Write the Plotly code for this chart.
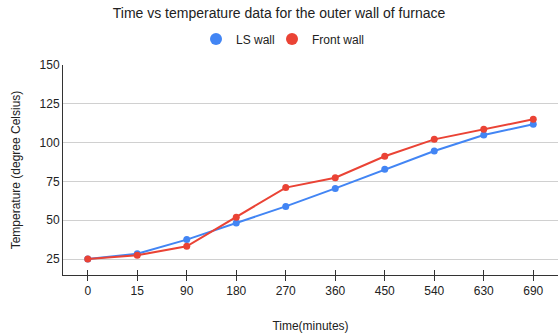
import plotly.graph_objects as go

# Sample times (minutes), plotted as evenly spaced categories
times = ["0", "15", "90", "180", "270", "360", "450", "540", "630", "690"]

# Outer wall temperatures (degree Celsius)
ls_wall = [25.0, 28.4, 37.5, 48.2, 58.9, 70.5, 82.8, 94.6, 104.9, 111.8]
front_wall = [25.0, 27.4, 33.2, 51.9, 71.0, 77.4, 91.2, 102.1, 108.6, 115.0]

y_ticks = [25, 50, 75, 100, 125, 150]

FONT = "Liberation Sans, Arial, sans-serif"
TEXT = "#222222"
BLUE = "#4285F4"
RED = "#EA4335"

fig = go.Figure()
series = [("LS wall", ls_wall, BLUE, "legend"), ("Front wall", front_wall, RED, "legend2")]
for name, values, color, leg in series:
    fig.add_trace(go.Scatter(
        x=times, y=values, name=name, mode="lines+markers", showlegend=False,
        line=dict(color=color, width=2), marker=dict(size=7, color=color),
    ))
    # legend entry shown as a plain dot
    fig.add_trace(go.Scatter(
        x=[None], y=[None], name=name, mode="markers", legend=leg,
        marker=dict(size=11, color=color),
    ))
# invisible trace on an overlaid axis to draw the upper half of the crossing ticks
fig.add_trace(go.Scatter(
    x=times, y=[None] * len(times), xaxis="x2", showlegend=False,
    hoverinfo="skip", mode="lines",
))

legend_style = dict(
    orientation="h", xanchor="left", y=1.124, yanchor="middle",
    font=dict(size=12, color=TEXT), itemsizing="constant",
    itemwidth=30, bgcolor="rgba(0,0,0,0)",
)

fig.update_layout(
    width=558, height=335,
    margin=dict(l=63, r=0, t=65, b=60),
    paper_bgcolor="white", plot_bgcolor="white",
    font=dict(family=FONT, size=12, color=TEXT),
    title=dict(
        text="Time vs temperature data for the outer wall of furnace",
        x=0.5, xref="container", xanchor="center",
        y=1 - 13 / 335, yref="container", yanchor="middle",
        font=dict(size=14, color=TEXT),
    ),
    legend=dict(x=(216 - 63 - 20) / 495, **legend_style),
    legend2=dict(x=(292 - 63 - 20) / 495, **legend_style),
    xaxis=dict(
        type="category", showgrid=False, showline=True, linecolor="#333333",
        linewidth=1, ticks="outside", ticklen=5, tickcolor="#333333",
        tickfont=dict(size=12, color=TEXT), range=[-0.5, 9.5],
        title=dict(text="Time(minutes)", font=dict(size=12, color=TEXT), standoff=24),
        zeroline=False, fixedrange=True,
    ),
    xaxis2=dict(
        type="category", overlaying="x", side="bottom", showgrid=False,
        showline=False, ticks="inside", ticklen=5, tickcolor="#333333",
        showticklabels=False, range=[-0.5, 9.5], matches="x",
    ),
    yaxis=dict(
        range=[14.7, 150], tickvals=y_ticks, showgrid=True, gridcolor="#d0d0d0",
        gridwidth=1, showline=True, linecolor="#333333", linewidth=1,
        ticks="", tickfont=dict(size=12, color=TEXT), zeroline=False,
        title=dict(text="Temperature (degree Celsius)", font=dict(size=12, color=TEXT), standoff=16),
    ),
    showlegend=True,
)

fig.write_html("out.html")
